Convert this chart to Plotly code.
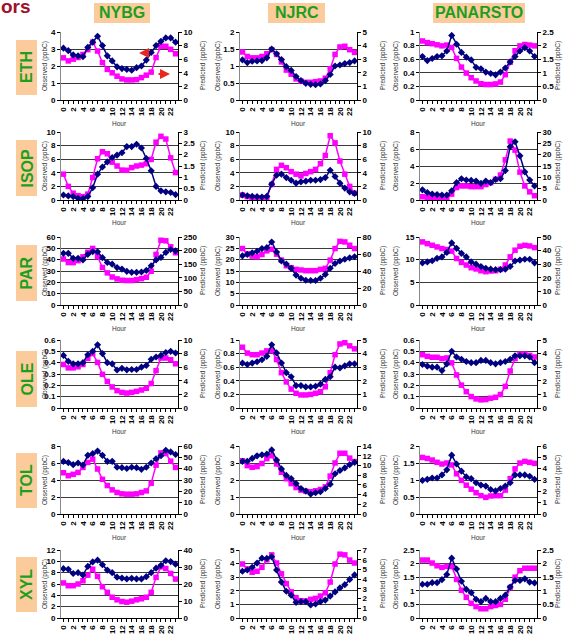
import plotly.graph_objects as go

# ---------------- data ----------------
hours = list(range(24))
hour_ticks = list(range(0, 24, 2))
sites = ["NYBG", "NJRC", "PANARSTO"]
species = ["ETH", "ISOP", "PAR", "OLE", "TOL", "XYL"]

obs_ETH_NYBG = [3.05,2.9,2.65,2.6,2.55,3.1,3.4,3.75,3.2,2.6,2.3,1.95,1.85,1.8,1.75,1.9,2.0,2.35,2.8,3.2,3.45,3.65,3.65,3.4]
pred_ETH_NYBG = [6.2,5.75,6.0,6.25,6.7,7.4,8.5,7.2,5.5,4.5,4.0,3.5,3.1,2.95,2.95,3.0,3.3,3.65,4.1,6.25,7.9,7.9,7.45,6.8]
obs_ETH_NJRC = [1.18,1.1,1.14,1.15,1.16,1.24,1.5,1.36,1.19,0.98,0.87,0.69,0.57,0.49,0.46,0.45,0.47,0.57,0.75,1.0,1.03,1.07,1.1,1.15]
pred_ETH_NJRC = [3.53,3.2,3.1,3.1,3.2,3.4,3.7,3.35,2.8,2.2,1.9,1.55,1.38,1.3,1.3,1.35,1.4,1.6,2.3,3.35,3.9,3.95,3.7,3.5]
obs_ETH_PAN = [0.64,0.58,0.61,0.64,0.65,0.72,0.95,0.82,0.7,0.63,0.59,0.48,0.46,0.41,0.39,0.37,0.41,0.47,0.56,0.64,0.72,0.77,0.72,0.64]
pred_ETH_PAN = [2.17,2.11,2.07,2.03,1.99,2.02,1.93,1.53,1.21,0.99,0.82,0.7,0.6,0.57,0.57,0.59,0.66,0.93,1.39,1.81,1.99,2.04,2.02,1.99]

obs_ISOP_NYBG = [0.73,0.6,0.5,0.25,0.2,0.5,1.8,3.8,4.85,5.6,6.25,6.6,6.95,7.85,7.85,8.2,7.65,6.1,4.3,2.0,1.35,1.2,1.1,0.8]
pred_ISOP_NYBG = [1.14,0.6,0.3,0.19,0.15,0.26,0.99,1.82,2.13,2.04,1.67,1.5,1.32,1.31,1.43,1.5,1.54,1.6,1.79,2.55,2.81,2.69,1.86,1.21]
obs_ISOP_NJRC = [0.73,0.63,0.53,0.49,0.44,0.53,2.33,3.64,3.8,3.3,2.9,2.48,2.67,2.77,2.9,2.9,3.0,3.3,4.37,3.45,2.48,1.75,1.2,0.97]
pred_ISOP_NJRC = [0.73,0.49,0.39,0.3,0.3,0.34,2.28,4.5,5.1,4.75,4.17,3.8,3.55,3.9,4.17,4.5,5.34,6.55,9.45,8.4,5.73,3.8,2.0,1.0]
obs_ISOP_PAN = [1.2,0.88,0.7,0.65,0.58,0.58,1.08,2.04,2.5,2.35,2.3,2.23,1.96,2.23,2.04,2.42,2.5,3.46,6.27,6.85,5.2,3.3,2.35,1.65]
pred_ISOP_PAN = [1.44,1.15,1.0,0.87,0.72,0.72,2.6,5.5,6.2,6.2,5.9,5.9,5.9,6.8,7.65,9.1,11,17.7,26,22,12.3,6.2,3.6,1.9]

obs_PAR_NYBG = [45.6,45.6,41.2,41.2,39.8,44.7,47,47,41.8,37.5,36,33,31.7,29.7,28.8,28.8,29.1,30.5,34.6,39.8,42,46.4,49,47.8]
pred_PAR_NYBG = [169,156,156,163,177,194,208,178,138,118,103,96,91,90,90,93,97,102,124,186,238,236,214,192]
obs_PAR_NJRC = [21.7,22.3,23,23.7,24.9,25.3,27.8,23.4,19.4,18.1,16.2,13.2,11.8,10.9,10.8,10.8,11.8,13.5,16.2,18.3,19.4,20.2,20.8,21.3]
pred_PAR_NJRC = [66.4,60.2,57.5,56.7,59.4,63.7,65.6,59.8,52.8,46.2,43.9,41.9,41.2,40.4,40.4,40.4,41.9,43.1,52.8,66.4,74.9,74.2,70.3,66.4]
obs_PAR_PAN = [9.3,9.5,9.76,10.3,10.6,11.6,13.7,12.5,11.4,10.6,9.5,9.0,8.5,8.1,7.9,7.8,7.8,7.9,8.5,9.7,9.9,10.1,10.1,9.3]
pred_PAR_PAN = [46.4,45.1,43.9,42.7,41.5,40.8,39.6,34.2,31.3,29.4,27.4,26.5,25.2,24.5,25,25.2,26.2,29.4,35.4,40.3,43.2,43.9,43.4,42.2]

obs_OLE_NYBG = [0.464,0.412,0.39,0.39,0.4,0.47,0.5,0.557,0.48,0.4,0.39,0.335,0.35,0.337,0.34,0.34,0.36,0.375,0.43,0.45,0.464,0.49,0.5,0.485]
pred_OLE_NYBG = [6.4,5.9,5.9,6.06,6.4,7.3,8.0,6.7,4.95,3.9,3.1,2.55,2.3,2.2,2.3,2.45,2.65,2.9,3.6,5.5,7.35,7.35,7.1,6.5]
obs_OLE_NJRC = [0.66,0.64,0.66,0.68,0.71,0.76,0.93,0.81,0.66,0.52,0.46,0.33,0.33,0.31,0.31,0.32,0.35,0.42,0.46,0.6,0.59,0.62,0.65,0.65]
pred_OLE_NJRC = [4.47,4.04,3.92,3.92,4.04,4.2,4.23,3.56,2.6,1.92,1.39,1.08,0.96,0.96,1.0,1.08,1.2,1.56,2.6,3.92,4.71,4.8,4.57,4.35]
obs_OLE_PAN = [0.384,0.37,0.36,0.36,0.33,0.39,0.5,0.45,0.43,0.41,0.4,0.4,0.42,0.42,0.4,0.39,0.4,0.41,0.43,0.46,0.46,0.46,0.45,0.4]
pred_OLE_PAN = [3.92,3.8,3.73,3.73,3.63,3.68,3.32,2.43,1.68,1.2,0.84,0.67,0.6,0.62,0.72,0.79,0.99,1.59,2.72,3.63,3.96,3.96,3.87,3.75]

obs_TOL_NYBG = [6.2,6.05,5.8,6.0,5.75,6.9,7.1,7.4,6.9,6.2,6.2,5.5,5.45,5.35,5.5,5.45,5.25,5.5,6.0,6.5,6.85,7.5,7.3,7.0]
pred_TOL_NYBG = [36.4,33.8,35,36.7,41.1,45.5,48.4,39.7,30.6,25.1,21.3,19,17.8,17.5,17.5,17.8,19,20.4,27.1,43.1,53.9,53.4,46.6,41.1]
obs_TOL_NJRC = [3.1,3.1,3.27,3.42,3.48,3.52,3.77,3.17,2.65,2.27,2.08,1.79,1.5,1.35,1.17,1.25,1.31,1.5,1.75,2.37,2.56,2.71,2.9,3.04]
pred_TOL_NJRC = [10.97,9.96,9.62,9.76,10.4,11.4,12.0,10.3,8.6,7.27,6.26,5.45,4.91,4.71,4.58,4.78,5.05,5.59,7.8,10.5,12.5,12.5,11.5,10.8]
obs_TOL_PAN = [0.99,1.02,1.06,1.06,1.15,1.3,1.73,1.47,1.26,1.09,1.04,0.92,0.85,0.82,0.72,0.68,0.75,0.82,0.92,1.15,1.15,1.15,1.11,1.02]
pred_TOL_PAN = [4.99,4.9,4.76,4.56,4.41,4.5,4.33,3.55,2.97,2.54,2.19,1.88,1.62,1.47,1.59,1.62,1.62,2.11,3.12,3.98,4.5,4.64,4.56,4.47]

obs_XYL_NYBG = [8.7,8.6,7.85,8.0,7.57,9.1,9.9,10.2,9.4,8.45,8.0,7.2,7.05,6.9,7.0,6.9,6.9,7.3,8.0,8.8,9.3,10.1,9.95,9.5]
pred_XYL_NYBG = [20.6,19,19,20,21.9,25.2,28.7,24.5,18.4,15.1,12.2,10.7,9.7,9.3,9.9,10.7,11.3,12.2,15.1,23.9,30.1,29.1,26.2,22.9]
obs_XYL_NJRC = [3.44,3.53,3.73,4.04,4.4,4.38,4.5,3.53,2.64,1.97,1.68,1.15,1.2,1.2,0.96,1.03,1.2,1.32,1.61,1.92,2.21,2.45,2.84,3.17]
pred_XYL_NJRC = [5.56,5.05,4.71,4.81,5.22,5.99,6.5,5.66,4.55,3.54,2.69,2.09,1.78,1.75,1.92,2.02,2.26,2.59,3.7,5.56,6.57,6.5,5.96,5.66]
obs_XYL_PAN = [1.24,1.24,1.3,1.3,1.41,1.6,2.2,1.8,1.35,1.05,0.93,0.69,0.6,0.72,0.6,0.6,0.72,0.84,1.14,1.38,1.38,1.44,1.32,1.29]
pred_XYL_PAN = [2.13,2.13,2.02,1.92,1.86,1.9,1.89,1.42,1.02,0.76,0.54,0.42,0.34,0.34,0.42,0.46,0.5,0.69,1.12,1.5,1.74,1.83,1.83,1.83]

# axis scales: (max, step) for observed (left) and predicted (right)
obs_axes = [[(4, 1), (2, 0.5), (1, 0.2)],
            [(10, 2), (10, 2), (8, 2)],
            [(60, 10), (30, 5), (15, 5)],
            [(0.6, 0.1), (1, 0.2), (0.6, 0.1)],
            [(8, 2), (4, 1), (2, 0.5)],
            [(12, 2), (5, 1), (2.5, 0.5)]]
pred_axes = [[(10, 2), (5, 1), (2.5, 0.5)],
             [(3, 0.5), (10, 2), (30, 5)],
             [(250, 50), (80, 20), (50, 10)],
             [(10, 2), (5, 1), (5, 1)],
             [(60, 10), (14, 2), (6, 1)],
             [(40, 10), (7, 1), (2.5, 0.5)]]

obs_data = [[obs_ETH_NYBG, obs_ETH_NJRC, obs_ETH_PAN],
            [obs_ISOP_NYBG, obs_ISOP_NJRC, obs_ISOP_PAN],
            [obs_PAR_NYBG, obs_PAR_NJRC, obs_PAR_PAN],
            [obs_OLE_NYBG, obs_OLE_NJRC, obs_OLE_PAN],
            [obs_TOL_NYBG, obs_TOL_NJRC, obs_TOL_PAN],
            [obs_XYL_NYBG, obs_XYL_NJRC, obs_XYL_PAN]]
pred_data = [[pred_ETH_NYBG, pred_ETH_NJRC, pred_ETH_PAN],
             [pred_ISOP_NYBG, pred_ISOP_NJRC, pred_ISOP_PAN],
             [pred_PAR_NYBG, pred_PAR_NJRC, pred_PAR_PAN],
             [pred_OLE_NYBG, pred_OLE_NJRC, pred_OLE_PAN],
             [pred_TOL_NYBG, pred_TOL_NJRC, pred_TOL_PAN],
             [pred_XYL_NYBG, pred_XYL_NJRC, pred_XYL_PAN]]

# ---------------- layout geometry (pixels) ----------------
W, H = 582, 639
col_left = [61, 240, 420]
col_w = 117
row_top = [32, 132, 237, 340, 446, 550]
row_h = 68
obs_title_x = [45, 218, 396]
pred_title_x = [203, 383, 558]
head_box = [(94, 150), (268, 325), (433, 525)]
row_box = [(40, 95), (140, 196), (245, 301), (351, 407), (453, 508), (557, 612)]

def fx(x):
    return x / W

def fy(y):
    return 1 - y / H

FONT = "Liberation Sans, Arial, sans-serif"
BLUE = "#000080"
PINK = "#FF00FF"
GREEN = "#1E9E1E"
PEACH = "#FBCB9B"

fig = go.Figure()
layout = dict(
    width=W, height=H, margin=dict(l=0, r=0, t=0, b=0, autoexpand=False),
    paper_bgcolor="white", plot_bgcolor="white", showlegend=False,
    font=dict(family=FONT, size=8, color="black"),
)
annotations = []
shapes = []

def text_ann(text, x, y, size, color, angle=0, xanchor="center", yanchor="middle"):
    return dict(text=text, x=fx(x), y=fy(y), xref="paper", yref="paper",
                xanchor=xanchor, yanchor=yanchor, textangle=angle, showarrow=False,
                font=dict(family=FONT, size=size, color=color))

for r in range(6):
    for c in range(3):
        k = r * 3 + c
        xa = k + 1
        yp = 2 * k + 1   # primary: predicted (right)
        yo = 2 * k + 2   # overlay: observed (left, with grid)
        xname = "x" if xa == 1 else f"x{xa}"
        ypname = "y" if yp == 1 else f"y{yp}"
        yoname = f"y{yo}"
        x0, x1 = col_left[c], col_left[c] + col_w
        y0, y1 = row_top[r], row_top[r] + row_h
        omax, ostep = obs_axes[r][c]
        pmax, pstep = pred_axes[r][c]

        layout["xaxis" if xa == 1 else f"xaxis{xa}"] = dict(
            domain=[fx(x0), fx(x1)], anchor=ypname, range=[-0.5, 23.5],
            tickmode="array", tickvals=hour_ticks, ticktext=[str(h) for h in hour_ticks],
            tickangle=-90, ticks="outside", ticklen=3, tickcolor="black",
            minor=dict(tickmode="linear", tick0=0, dtick=1, ticks="outside", ticklen=3, tickcolor="black"),
            showline=True, linecolor="black", linewidth=1, showgrid=False, zeroline=False,
            tickfont=dict(family=FONT, size=8, color="black", weight="bold"),
            fixedrange=True, automargin=False,
        )
        layout["yaxis" if yp == 1 else f"yaxis{yp}"] = dict(
            domain=[fy(y1), fy(y0)], anchor=xname, side="right",
            range=[0, pmax], tickmode="linear", tick0=0, dtick=pstep,
            ticks="outside", ticklen=3, tickcolor="black",
            showline=True, linecolor="black", linewidth=1, showgrid=False, zeroline=False,
            tickfont=dict(family=FONT, size=8, color="black", weight="bold"),
            fixedrange=True, automargin=False,
        )
        layout[f"yaxis{yo}"] = dict(
            overlaying=ypname, anchor=xname, side="left",
            range=[0, omax], tickmode="linear", tick0=0, dtick=ostep,
            ticks="outside", ticklen=3, tickcolor="black",
            showline=True, linecolor="#888888", linewidth=1,
            showgrid=True, gridcolor="#3a3a3a", gridwidth=1, zeroline=False,
            tickfont=dict(family=FONT, size=8, color="black", weight="bold"),
            fixedrange=True, automargin=False,
        )
        fig.add_trace(go.Scatter(
            x=hours, y=pred_data[r][c], xaxis=xname, yaxis=ypname, mode="lines+markers",
            line=dict(color=PINK, width=1.5),
            marker=dict(symbol="square", size=5.5, color=PINK),
            name="Predicted", hoverinfo="skip"))
        fig.add_trace(go.Scatter(
            x=hours, y=obs_data[r][c], xaxis=xname, yaxis=yoname, mode="lines+markers",
            line=dict(color=BLUE, width=1.5),
            marker=dict(symbol="diamond", size=5.5, color=BLUE),
            name="Observed", hoverinfo="skip"))

        yc = (y0 + y1) / 2
        annotations.append(text_ann("Observed (ppbC)", obs_title_x[c], yc, 6.5, "#333333", angle=-90))
        annotations.append(text_ann("Predicted (ppbC)", pred_title_x[c], yc, 6.5, "#333333", angle=-90))
        annotations.append(text_ann("Hour", (x0 + x1) / 2, y1 + 23, 6.5, "#333333"))

# column headers
for c, name in enumerate(sites):
    a, b = head_box[c]
    shapes.append(dict(type="rect", xref="paper", yref="paper", x0=fx(a), x1=fx(b),
                       y0=fy(23), y1=fy(3), fillcolor=PEACH, line=dict(width=0), layer="below"))
    annotations.append(text_ann(f"<b>{name}</b>", (a + b) / 2, 13, 16, GREEN))

# row labels
for r, name in enumerate(species):
    a, b = row_box[r]
    shapes.append(dict(type="rect", xref="paper", yref="paper", x0=fx(16), x1=fx(37),
                       y0=fy(b), y1=fy(a), fillcolor=PEACH, line=dict(width=0), layer="below"))
    annotations.append(text_ann(f"<b>{name}</b>", 26.5, (a + b) / 2, 16, GREEN, angle=-90))

# partial title at top-left
annotations.append(text_ann("<b>ors</b>", -1, 6, 19, "#A0102A", xanchor="left", yanchor="middle"))

# red arrows in NYBG / ETH panel
annotations.append(dict(text="", x=fx(139), y=fy(53), xref="paper", yref="paper",
                        ax=11, ay=0, showarrow=True, arrowhead=2, arrowsize=1,
                        arrowwidth=2, arrowcolor="#E8281E"))
annotations.append(dict(text="", x=fx(170), y=fy(74), xref="paper", yref="paper",
                        ax=-13, ay=0, showarrow=True, arrowhead=2, arrowsize=1,
                        arrowwidth=2, arrowcolor="#E8281E"))

layout["annotations"] = annotations
layout["shapes"] = shapes
fig.update_layout(**layout)
fig.write_html("out.html", config={"displayModeBar": False, "staticPlot": True},
               post_script="document.body.style.margin='0';document.body.style.overflow='hidden';")
